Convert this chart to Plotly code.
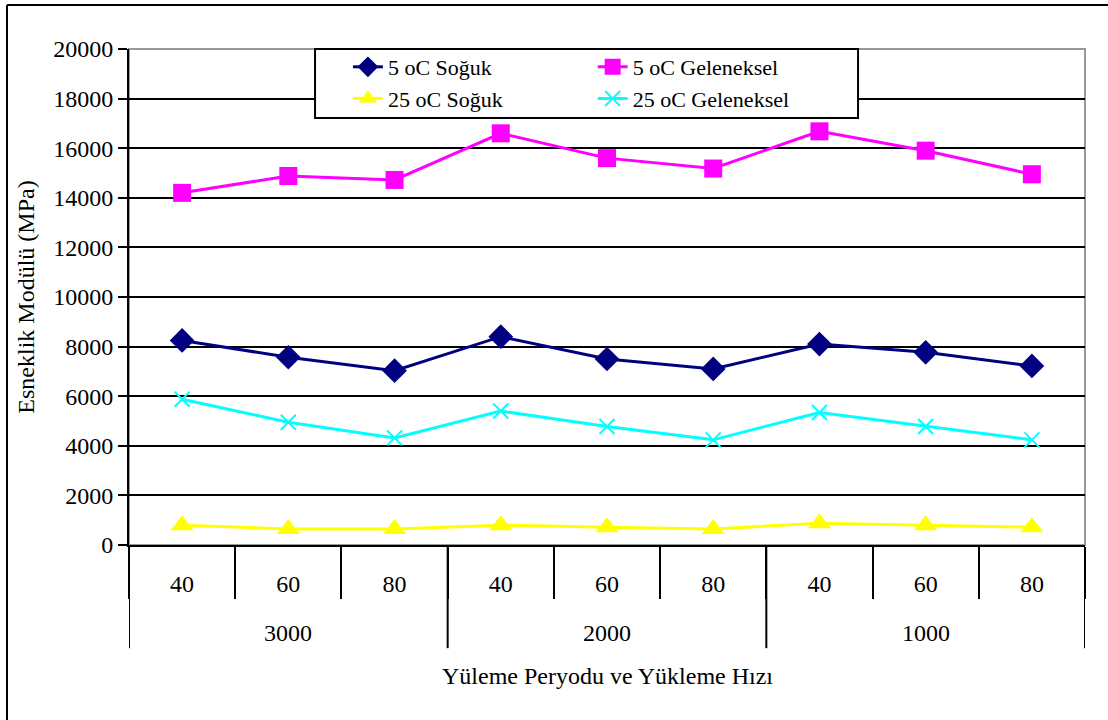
import plotly.graph_objects as go

# Loading period (upper group) and loading rate (lower level) categories
period_groups = ["3000", "2000", "1000"]
rates = ["40", "60", "80", "40", "60", "80", "40", "60", "80"]

# Elastic modulus values (MPa)
soguk_5 = [8250, 7570, 7030, 8400, 7500, 7100, 8100, 7770, 7220]
geleneksel_5 = [14200, 14880, 14720, 16600, 15600, 15180, 16680, 15900, 14950]
soguk_25 = [800, 650, 650, 800, 720, 650, 880, 800, 720]
geleneksel_25 = [5880, 4950, 4320, 5400, 4780, 4240, 5340, 4780, 4240]

FONT = "Liberation Serif, Times New Roman, serif"
FS = 24      # axis text
FS_LEG = 22  # legend text

n = len(rates)
per_group = n // len(period_groups)
xpos = list(range(n))

fig = go.Figure()

series = [
    ("5 oC Soğuk", soguk_5, "#000080", "diamond", 19, "legend"),
    ("5 oC Geleneksel", geleneksel_5, "#FF00FF", "square", 18, "legend2"),
    ("25 oC Soğuk", soguk_25, "#FFFF00", "triangle-up", 20, "legend"),
    ("25 oC Geleneksel", geleneksel_25, "#00FFFF", "x-thin", 15, "legend2"),
]

for name, vals, color, symbol, size, leg in series:
    marker = dict(symbol=symbol, size=size, color=color)
    if symbol == "x-thin":
        marker["line"] = dict(color=color, width=2)
    fig.add_trace(go.Scatter(
        x=xpos, y=vals, name=name, mode="lines+markers",
        line=dict(color=color, width=3), marker=marker, legend=leg,
    ))

legend_style = dict(
    font=dict(family=FONT, size=FS_LEG, color="black"),
    bgcolor="rgba(0,0,0,0)", borderwidth=0,
    orientation="v", yanchor="top", xanchor="left", tracegroupgap=0,
)

# category boundaries and period-group boundaries along x
boundaries = [i - 0.5 for i in range(n + 1)]
group_edges = [g * per_group - 0.5 for g in range(len(period_groups) + 1)]
group_centers = [g * per_group + (per_group - 1) / 2 for g in range(len(period_groups))]

shapes = [
    # plot-area frame
    dict(type="rect", xref="paper", yref="paper", x0=0, x1=1, y0=0, y1=1,
         line=dict(color="#999999", width=2), layer="below"),
    # legend box
    dict(type="rect", xref="paper", yref="paper", x0=0.1946, x1=0.7626,
         y0=0.861, y1=1.0, line=dict(color="black", width=2),
         fillcolor="white", layer="above"),
    # outer chart border (left and top edges)
    dict(type="line", xref="paper", yref="paper", x0=-0.1276, x1=-0.1276,
         y0=-0.5, y1=1.0887, line=dict(color="black", width=2)),
    dict(type="line", xref="paper", yref="paper", x0=-0.1276, x1=1.2,
         y0=1.0887, y1=1.0887, line=dict(color="black", width=2)),
]
# long dividers between loading-period groups
for e in group_edges:
    shapes.append(dict(type="line", xref="x", yref="paper", x0=e, x1=e,
                       y0=0, y1=-0.208, line=dict(color="black", width=2)))

annotations = [
    dict(x=c, y=-0.177, xref="x", yref="paper", text=g, showarrow=False,
         yanchor="middle", font=dict(family=FONT, size=FS, color="black"))
    for c, g in zip(group_centers, period_groups)
]
annotations.append(dict(
    x=0.5, y=-0.265, xref="paper", yref="paper",
    text="Yüleme Peryodu ve Yükleme Hızı", showarrow=False, yanchor="middle",
    font=dict(family=FONT, size=FS, color="black"),
))

fig.update_layout(
    width=1108, height=720,
    margin=dict(l=129, r=23, t=49, b=175),
    paper_bgcolor="white", plot_bgcolor="white",
    font=dict(family=FONT, size=FS, color="black"),
    showlegend=True,
    legend=dict(x=0.229, y=1.006, **legend_style),
    legend2=dict(x=0.485, y=1.006, **legend_style),
    xaxis=dict(
        range=[-0.5, n - 0.5], tickmode="array", tickvals=xpos, ticktext=rates,
        showline=True, linecolor="black", linewidth=2,
        showgrid=False, zeroline=False, ticks="", ticklabelstandoff=16,
        tickfont=dict(family=FONT, size=FS, color="black"),
        minor=dict(tickmode="array", tickvals=boundaries, ticks="outside",
                   ticklen=52, tickwidth=2, tickcolor="black", showgrid=False),
    ),
    yaxis=dict(
        range=[0, 20000], dtick=2000, tickformat="d",
        showline=True, linecolor="black", linewidth=2,
        showgrid=True, gridcolor="black", gridwidth=2,
        zeroline=False,
        ticks="outside", ticklen=9, tickwidth=2, tickcolor="black",
        tickfont=dict(family=FONT, size=FS, color="black"),
        title=dict(text="Esneklik Modülü (MPa)",
                   font=dict(family=FONT, size=FS, color="black"), standoff=12),
    ),
    shapes=shapes,
    annotations=annotations,
)

fig.write_html("out.html")
